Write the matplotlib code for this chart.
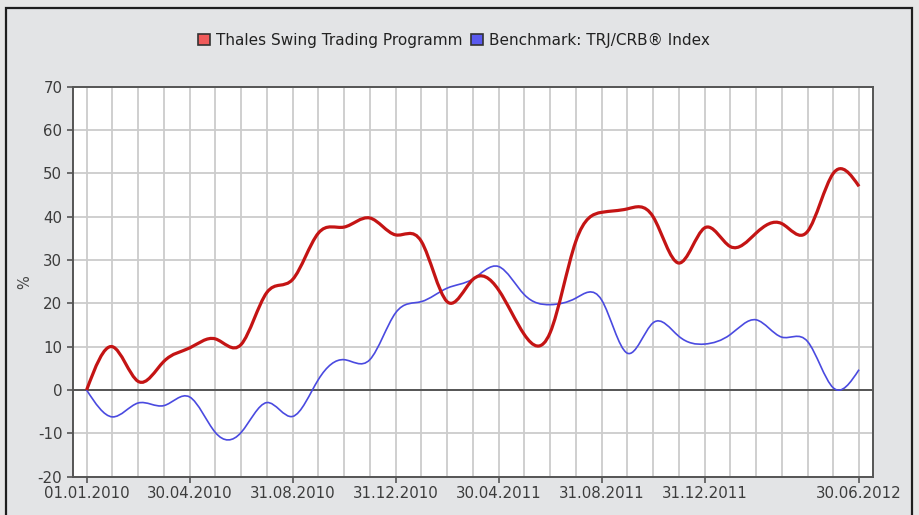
import matplotlib
matplotlib.use("Agg")
import matplotlib.pyplot as plt
from matplotlib.path import Path
from matplotlib.patches import PathPatch, Patch, Rectangle
import numpy as np

plt.rcParams["axes.unicode_minus"] = False

# month-end dates, 01.01.2010 .. 30.06.2012
months = ["01.01.2010", "31.01.2010", "28.02.2010", "31.03.2010", "30.04.2010",
          "31.05.2010", "30.06.2010", "31.07.2010", "31.08.2010", "30.09.2010",
          "31.10.2010", "30.11.2010", "31.12.2010", "31.01.2011", "28.02.2011",
          "31.03.2011", "30.04.2011", "31.05.2011", "30.06.2011", "31.07.2011",
          "31.08.2011", "30.09.2011", "31.10.2011", "30.11.2011", "31.12.2011",
          "31.01.2012", "29.02.2012", "31.03.2012", "30.04.2012", "31.05.2012",
          "30.06.2012"]
labelled = ["01.01.2010", "30.04.2010", "31.08.2010", "31.12.2010",
            "30.04.2011", "31.08.2011", "31.12.2011", "30.06.2012"]

thales = [0, 10, 2, 6.6, 9.7, 11.8, 10.5, 22.5, 25.5, 36.2, 37.6, 39.7, 35.8,
          34.3, 20.4, 25.5, 23.1, 12.8, 13.2, 34.3, 41.0, 41.8, 40.0, 29.3,
          37.4, 33.1, 36.2, 38.4, 36.6, 50.0, 47]
bench = [0, -6.2, -3.0, -3.6, -1.6, -9.8, -9.8, -2.9, -6.1, 2.4, 7.0, 7.0, 17.8,
         20.4, 23.5, 25.6, 28.5, 22, 19.7, 21.2, 20.8, 8.5, 15.5, 12.4, 10.6,
         12.8, 16.2, 12.2, 11.2, 0.5, 4.7]


def smooth_path(xs, ys):
    # natural cubic spline through the points, as cubic Bezier segments
    xs = np.asarray(xs, float)
    ys = np.asarray(ys, float)
    n = len(xs)
    h = np.diff(xs)
    A = np.zeros((n, n))
    r = np.zeros(n)
    A[0, 0] = A[-1, -1] = 1
    for i in range(1, n - 1):
        A[i, i - 1] = h[i - 1]
        A[i, i] = 2 * (h[i - 1] + h[i])
        A[i, i + 1] = h[i]
        r[i] = 6 * ((ys[i + 1] - ys[i]) / h[i] - (ys[i] - ys[i - 1]) / h[i - 1])
    m = np.linalg.solve(A, r)
    verts = [(xs[0], ys[0])]
    codes = [Path.MOVETO]
    for i in range(n - 1):
        s = (ys[i + 1] - ys[i]) / h[i]
        d0 = s - h[i] * (2 * m[i] + m[i + 1]) / 6
        d1 = s + h[i] * (m[i] + 2 * m[i + 1]) / 6
        verts += [(xs[i] + h[i] / 3, ys[i] + d0 * h[i] / 3),
                  (xs[i + 1] - h[i] / 3, ys[i + 1] - d1 * h[i] / 3),
                  (xs[i + 1], ys[i + 1])]
        codes += [Path.CURVE4] * 3
    return Path(verts, codes)


fig = plt.figure(figsize=(9.19, 5.15), dpi=100, facecolor="#e6e6e6")
# panel frame
fig.patches.append(Rectangle((6 / 919, -0.05), 906 / 919, 1 - 7.5 / 515 + 0.05,
                             transform=fig.transFigure, facecolor="#e3e4e6",
                             edgecolor="#1e1e1e", linewidth=1.6, zorder=-5))

ax = fig.add_axes([0.0791, 0.0744, 0.8705, 0.7573])
ax.set_facecolor("white")
x = np.arange(len(months))

ax.set_xlim(-0.54, len(months) - 1 + 0.53)
ax.set_ylim(-20, 70)

ax.set_xticks(x, minor=True)
ax.set_xticks([months.index(m) for m in labelled])
ax.set_xticklabels(labelled)
ax.set_yticks(range(-20, 71, 10))
ax.grid(True, which="both", axis="x", color="#cccccc", linewidth=1.3)
ax.grid(True, which="major", axis="y", color="#cccccc", linewidth=1.3)
ax.set_axisbelow(True)
ax.tick_params(axis="x", which="minor", length=0)
ax.tick_params(axis="both", which="major", direction="out", length=4,
               width=1.2, color="#555555", labelcolor="#3c3c3c", labelsize=10.8)
ax.tick_params(axis="x", which="major", pad=3)
for s in ax.spines.values():
    s.set_color("#555555")
    s.set_linewidth(1.4)
ax.axhline(0, color="#555555", linewidth=1.4, zorder=1.5)

ax.add_patch(PathPatch(smooth_path(x, bench), fill=False, edgecolor="#4a4ae0",
                       linewidth=1.2, zorder=3))
ax.add_patch(PathPatch(smooth_path(x, thales), fill=False, edgecolor="#c41414",
                       linewidth=2.3, zorder=4))

ax.set_ylabel("%", color="#444444", fontsize=10.5)
ax.yaxis.set_label_coords(-0.051, 0.499)

handles = [Patch(facecolor="#f05a5a", edgecolor="#333333", linewidth=1.2,
                 label="Thales Swing Trading Programm"),
           Patch(facecolor="#5a5af0", edgecolor="#333333", linewidth=1.2,
                 label="Benchmark: TRJ/CRB\u00ae Index")]
fig.legend(handles=handles, loc="center", bbox_to_anchor=(0.494, 0.922),
           ncol=2, frameon=False, fontsize=11, handlelength=0.75,
           handleheight=0.75, handletextpad=0.4, columnspacing=0.6,
           labelcolor="#222222")

fig.savefig("out.png", dpi=100, facecolor=fig.get_facecolor())
